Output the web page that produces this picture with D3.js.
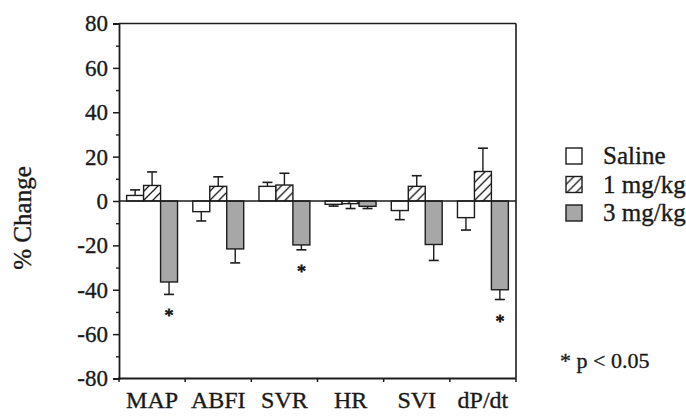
<!DOCTYPE html>
<html>
<head>
<meta charset="utf-8">
<script src="https://cdn.jsdelivr.net/npm/d3@7"></script>
<style>
  html, body { margin: 0; padding: 0; background: #fff; }
  svg { display: block; }
  text { font-family: "Liberation Serif", "Times New Roman", serif; fill: #1a1a1a; stroke: #1a1a1a; stroke-width: 0.35px; }
</style>
</head>
<body>
<svg id="chart" width="686" height="418"></svg>
<script>
// Percent change from baseline for each haemodynamic variable
const categories = ["MAP", "ABFI", "SVR", "HR", "SVI", "dP/dt"];
const seriesNames = ["Saline", "1 mg/kg", "3 mg/kg"];

const salineValues = [2.5, -4.8, 6.6, -1.5, -4.3, -7.5];
const salineErrors = [2.5, 4.2, 1.8, 0.8, 4.1, 5.6];
const mg1Values    = [7.0, 6.6, 7.2, -1.2, 6.6, 13.3];
const mg1Errors    = [6.1, 4.3, 5.3, 2.2, 4.8, 10.5];
const mg3Values    = [-36.5, -21.6, -19.8, -2.4, -19.6, -40.0];
const mg3Errors    = [5.6, 6.3, 2.2, 1.0, 7.2, 4.4];
const mg3Significant = [true, false, true, false, false, true];

const yTicks = [-80, -60, -40, -20, 0, 20, 40, 60, 80];
const yMinorTicks = [-70, -50, -30, -10, 10, 30, 50, 70];
const footnote = "* p < 0.05";

const svg = d3.select("#chart");
const plot = { left: 119, right: 516, top: 23.5, bottom: 378.5 };
const ink = "#1c1c1c";

const y = d3.scaleLinear().domain([-80, 80]).range([plot.bottom, plot.top]);
const x0 = d3.scaleBand().domain(categories).range([plot.left, plot.right]).padding(0);
const x1 = d3.scaleBand().domain(seriesNames).range([0, x0.bandwidth()])
  .paddingInner(0).paddingOuter(0.45);

// hatch for the 1 mg/kg series
const defs = svg.append("defs");
const hatch = defs.append("pattern")
  .attr("id", "hatch").attr("patternUnits", "userSpaceOnUse")
  .attr("width", 9).attr("height", 9);
hatch.append("rect").attr("width", 9).attr("height", 9).attr("fill", "#fff");
hatch.append("path")
  .attr("d", "M-2.25,2.25 L2.25,-2.25 M0,9 L9,0 M6.75,11.25 L11.25,6.75")
  .attr("stroke", ink).attr("stroke-width", 1.3);

const fills = { "Saline": "#ffffff", "1 mg/kg": "url(#hatch)", "3 mg/kg": "#a7a7a7" };

const rows = categories.map((c, i) => ({
  cat: c,
  bars: [
    { s: "Saline", v: salineValues[i], e: salineErrors[i], sig: false },
    { s: "1 mg/kg", v: mg1Values[i], e: mg1Errors[i], sig: false },
    { s: "3 mg/kg", v: mg3Values[i], e: mg3Errors[i], sig: mg3Significant[i] }
  ]
}));

// frame: top and right borders
svg.append("line").attr("x1", plot.left).attr("x2", plot.right)
  .attr("y1", plot.top).attr("y2", plot.top)
  .attr("stroke", ink).attr("stroke-width", 1.6);
svg.append("line").attr("x1", plot.right).attr("x2", plot.right)
  .attr("y1", plot.top).attr("y2", plot.bottom)
  .attr("stroke", ink).attr("stroke-width", 1.6);

// bars, error bars and significance marks
const groups = svg.append("g").selectAll("g").data(rows).join("g")
  .attr("transform", d => `translate(${x0(d.cat)},0)`);

groups.selectAll("line.err").data(d => d.bars).join("line")
  .attr("class", "err")
  .attr("x1", d => x1(d.s) + x1.bandwidth() / 2)
  .attr("x2", d => x1(d.s) + x1.bandwidth() / 2)
  .attr("y1", d => y(d.v))
  .attr("y2", d => y(d.v + Math.sign(d.v) * d.e))
  .attr("stroke", ink).attr("stroke-width", 1.4);

groups.selectAll("line.cap").data(d => d.bars).join("line")
  .attr("class", "cap")
  .attr("x1", d => x1(d.s) + x1.bandwidth() / 2 - 5)
  .attr("x2", d => x1(d.s) + x1.bandwidth() / 2 + 5)
  .attr("y1", d => y(d.v + Math.sign(d.v) * d.e))
  .attr("y2", d => y(d.v + Math.sign(d.v) * d.e))
  .attr("stroke", ink).attr("stroke-width", 1.6);

groups.selectAll("rect").data(d => d.bars).join("rect")
  .attr("x", d => x1(d.s))
  .attr("width", x1.bandwidth())
  .attr("y", d => Math.min(y(d.v), y(0)))
  .attr("height", d => Math.abs(y(d.v) - y(0)))
  .attr("fill", d => fills[d.s])
  .attr("stroke", ink).attr("stroke-width", 1.4);

groups.selectAll("text.sig").data(d => d.bars.filter(b => b.sig)).join("text")
  .attr("class", "sig")
  .attr("x", d => x1(d.s) + x1.bandwidth() / 2)
  .attr("y", d => y(d.v - d.e) + 28)
  .attr("text-anchor", "middle")
  .style("font-size", "18px")
  .style("stroke-width", "0.8px")
  .text("*");

// zero line
svg.append("line").attr("x1", plot.left).attr("x2", plot.right)
  .attr("y1", y(0)).attr("y2", y(0))
  .attr("stroke", ink).attr("stroke-width", 1.6);

// y axis with major and minor ticks (plain hyphen for negatives)
const yAxis = svg.append("g").attr("transform", `translate(${plot.left},0)`)
  .call(d3.axisLeft(y).tickValues(yTicks).tickSize(6).tickPadding(5).tickFormat(d => String(d)));
yAxis.select(".domain").attr("stroke", ink).attr("stroke-width", 1.8);
yAxis.selectAll(".tick line").attr("stroke", ink).attr("stroke-width", 1.5);
yAxis.selectAll(".tick text").style("font-size", "23px").attr("fill", ink);
yAxis.attr("font-family", null).attr("font-size", null);

const yMinor = svg.append("g").attr("transform", `translate(${plot.left},0)`)
  .call(d3.axisLeft(y).tickValues(yMinorTicks).tickSize(3).tickFormat(""));
yMinor.select(".domain").remove();
yMinor.selectAll(".tick line").attr("stroke", ink).attr("stroke-width", 1.4);

// x axis: category labels plus group boundary ticks
const xAxis = svg.append("g").attr("transform", `translate(0,${plot.bottom})`)
  .call(d3.axisBottom(x0).tickSize(0).tickPadding(12));
xAxis.select(".domain").remove();
xAxis.selectAll(".tick text").style("font-size", "24px").attr("fill", ink);
xAxis.attr("font-family", null).attr("font-size", null);

svg.append("line").attr("x1", plot.left - 1).attr("x2", plot.right)
  .attr("y1", plot.bottom).attr("y2", plot.bottom)
  .attr("stroke", ink).attr("stroke-width", 1.8);

const boundaries = categories.map(c => x0(c)).concat([plot.right]);
svg.append("g").selectAll("line").data(boundaries).join("line")
  .attr("x1", d => d).attr("x2", d => d)
  .attr("y1", plot.bottom).attr("y2", plot.bottom + 3.5)
  .attr("stroke", ink).attr("stroke-width", 1.5);

// y axis title
svg.append("text")
  .attr("transform", "translate(31,218) rotate(-90)")
  .attr("text-anchor", "middle")
  .style("font-size", "25px")
  .text("% Change");

// legend
const legend = svg.append("g").attr("transform", "translate(566,0)");
const legendRows = legend.selectAll("g").data(seriesNames).join("g")
  .attr("transform", (d, i) => `translate(0,${156 + i * 28.5})`);
legendRows.append("rect")
  .attr("x", 0).attr("y", -8).attr("width", 16).attr("height", 16)
  .attr("fill", d => fills[d]).attr("stroke", ink).attr("stroke-width", 1.4);
legendRows.append("text")
  .attr("x", 37).attr("y", 8)
  .style("font-size", "25px")
  .text(d => d);

// significance footnote
svg.append("text")
  .attr("x", 560).attr("y", 368)
  .style("font-size", "22px")
  .text(footnote);
</script>
</body>
</html>
